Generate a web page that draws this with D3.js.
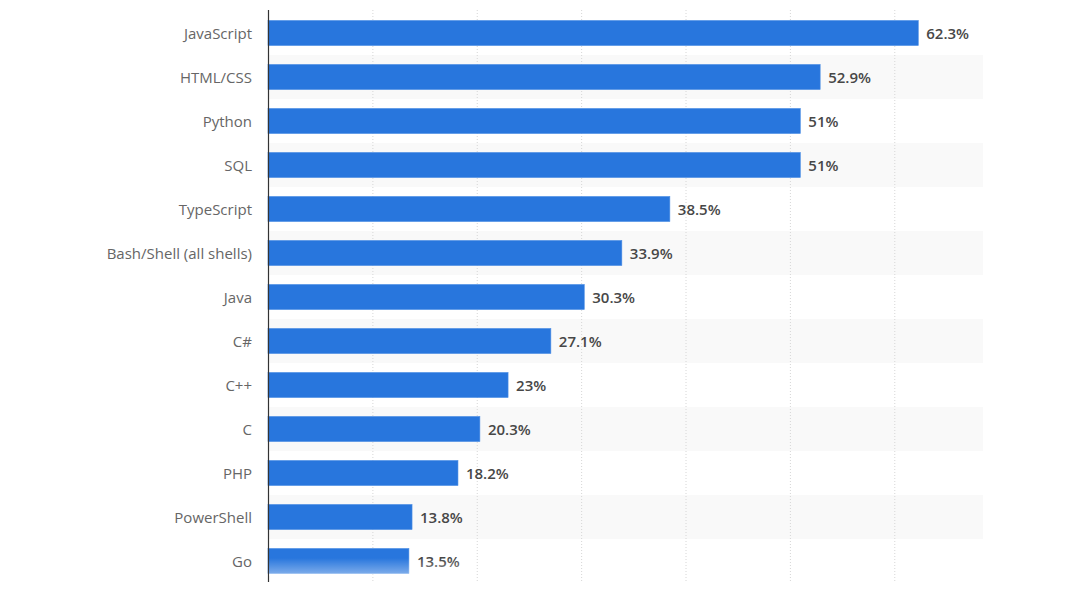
<!DOCTYPE html>
<html>
<head>
  <meta charset="utf-8">
  <title>Languages</title>
  <script src="https://d3js.org/d3.v7.min.js"></script>
<style type="text/css">

body {
  margin: 0;
  background: #fff;
  font-family: "Open Sans", sans-serif;
}

.cat text {
  font-family: "Open Sans", sans-serif;
  font-size: 15px;
  fill: #666;
}

.val text {
  font-size: 15px;
  font-weight: 600;
  fill: #474747;
}

.grid line {
  stroke: #d6d6d6;
  stroke-dasharray: 1,2;
}

</style>
</head>
<body>

<svg width="1080" height="592"></svg>

<script type="text/javascript">

let languages = ['JavaScript', 'HTML/CSS', 'Python', 'SQL', 'TypeScript', 'Bash/Shell (all shells)',
  'Java', 'C#', 'C++', 'C', 'PHP', 'PowerShell', 'Go'];
let shares = [62.3, 52.9, 51, 51, 38.5, 33.9, 30.3, 27.1, 23, 20.3, 18.2, 13.8, 13.5];
let gridTicks = [10, 20, 30, 40, 50, 60];

let svg = d3.select('svg');

let x = d3.scaleLinear()
  .domain([0, 68.5])
  .range([268, 983]);

let y = d3.scaleBand()
  .domain(languages)
  .range([11, 583])
  .paddingInner(0.43)
  .paddingOuter(0.215);

// band rows (without padding) for the striped background
let row = d3.scaleBand()
  .domain(languages)
  .range([11, 583]);

svg.append('g')
  .selectAll('rect')
  .data(languages.filter((d, i) => i % 2 === 1))
  .enter()
  .append('rect')
  .attr('x', x(0))
  .attr('y', d => row(d))
  .attr('width', x.range()[1] - x(0))
  .attr('height', row.bandwidth())
  .attr('fill', '#f9f9f9');

svg.append('g')
  .attr('class', 'grid')
  .selectAll('line')
  .data(gridTicks)
  .enter()
  .append('line')
  .attr('x1', d => x(d) + 0.5)
  .attr('x2', d => x(d) + 0.5)
  .attr('y1', 10)
  .attr('y2', 582);

svg.append('g')
  .selectAll('rect')
  .data(languages)
  .enter()
  .append('rect')
  .attr('x', x(0))
  .attr('y', d => y(d))
  .attr('width', (d, i) => x(shares[i]) - x(0))
  .attr('height', y.bandwidth())
  .attr('fill', '#2876dd')
  .attr('stroke', '#4f8fe4')
  .attr('stroke-width', 0.6);

svg.append('g')
  .attr('class', 'val')
  .selectAll('text')
  .data(languages)
  .enter()
  .append('text')
  .attr('x', (d, i) => x(shares[i]) + 8)
  .attr('y', d => y(d) + y.bandwidth() / 2 + 1)
  .attr('dy', '0.35em')
  .text((d, i) => shares[i] + '%');

let yAxis = d3.axisLeft(y).tickSize(0).tickPadding(16);

svg.append('g')
  .attr('class', 'cat')
  .attr('transform', 'translate(' + x(0) + ',1)')
  .call(yAxis)
  .attr('font-family', null)
  .attr('font-size', null)
  .call(g => g.select('.domain').remove());

svg.append('line')
  .attr('x1', x(0) + 0.5)
  .attr('x2', x(0) + 0.5)
  .attr('y1', 10)
  .attr('y2', 582)
  .attr('stroke', '#333')
  .attr('stroke-width', 1.2);

// fade at the bottom edge
let grad = svg.append('defs').append('linearGradient')
  .attr('id', 'fade')
  .attr('x1', 0).attr('x2', 0).attr('y1', 0).attr('y2', 1);
grad.append('stop').attr('offset', '0%').attr('stop-color', '#fff').attr('stop-opacity', 0);
grad.append('stop').attr('offset', '100%').attr('stop-color', '#fff').attr('stop-opacity', 0.45);

svg.append('rect')
  .attr('x', x(0) + 1)
  .attr('y', 558)
  .attr('width', 200)
  .attr('height', 18)
  .attr('fill', 'url(#fade)');

</script>
</body>
</html>
